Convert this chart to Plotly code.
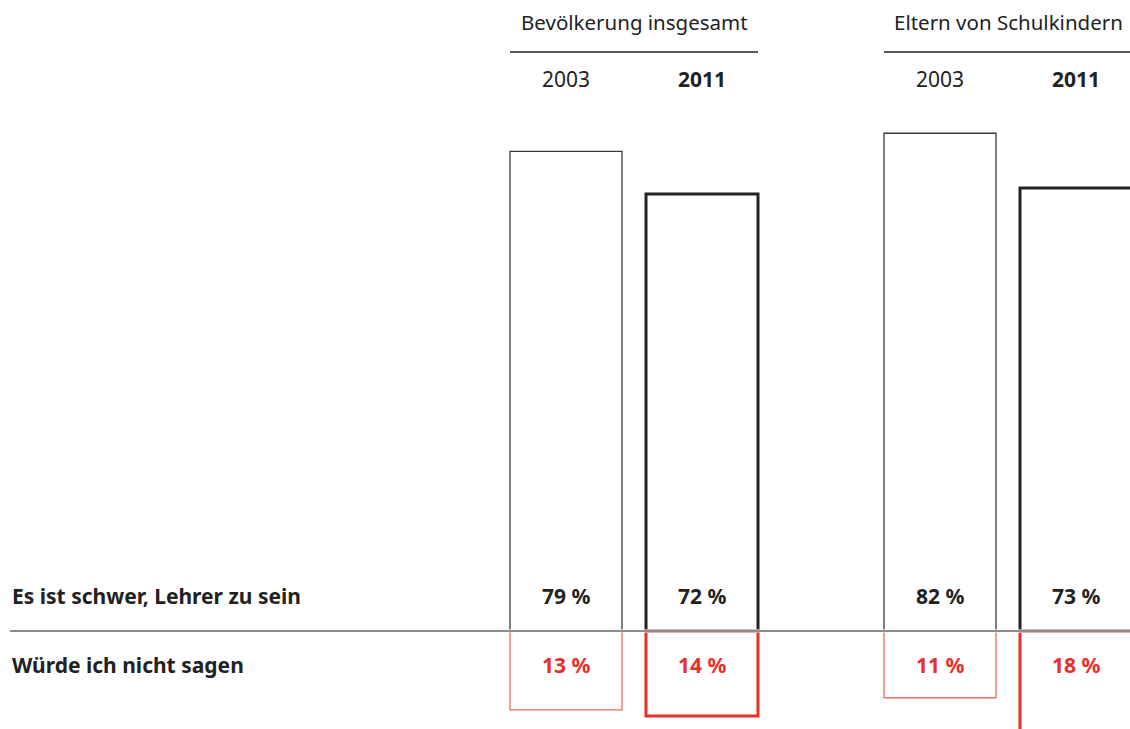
import plotly.graph_objects as go

# ---- data ----
groups = ["Bevölkerung insgesamt", "Eltern von Schulkindern"]
years = ["2003", "2011"]
row_labels = ["Es ist schwer, Lehrer zu sein", "Würde ich nicht sagen"]
schwer = [79, 72, 82, 73]      # % "Es ist schwer, Lehrer zu sein"
nicht_sagen = [13, 14, 11, 18]  # % "Würde ich nicht sagen"

# ---- layout constants (pixel-like x axis) ----
W, H = 1130, 729
FONT = "Noto Sans"
BLACK = "#222222"
RED = "#e8302a"
GRAY = "#666666"
px_per_unit = 6.07
baseline_px = 631
y_top = baseline_px / px_per_unit
y_bot = -(H - baseline_px) / px_per_unit

group_start = [566, 940]
pair_gap = 136
bar_w = 112

xs, yr_idx = [], []
for g in range(len(groups)):
    for k in range(len(years)):
        xs.append(group_start[g] + k * pair_gap)
        yr_idx.append(k)

fig = go.Figure()

for i, x in enumerate(xs):
    bold = yr_idx[i] == 1
    lw = 3 if bold else 1.3
    fig.add_trace(go.Bar(
        x=[x], y=[schwer[i]], base=0, width=bar_w,
        marker=dict(color="rgba(0,0,0,0)",
                    line=dict(color=BLACK if bold else "#3a3a3a", width=lw)),
        hoverinfo="skip", showlegend=False))
    fig.add_trace(go.Bar(
        x=[x], y=[-nicht_sagen[i]], base=0, width=bar_w,
        marker=dict(color="rgba(0,0,0,0)",
                    line=dict(color=RED if bold else "#f06a62", width=lw)),
        hoverinfo="skip", showlegend=False))

annotations = []
label_y_top = (baseline_px - 596) / px_per_unit
label_y_bot = (baseline_px - 665) / px_per_unit
for i, x in enumerate(xs):
    annotations.append(dict(x=x, y=label_y_top, xref="x", yref="y",
                            text=f"<b>{schwer[i]} %</b>", showarrow=False,
                            yanchor="middle",
                            font=dict(family=FONT, size=21, color=BLACK)))
    annotations.append(dict(x=x, y=label_y_bot, xref="x", yref="y",
                            text=f"<b>{nicht_sagen[i]} %</b>", showarrow=False,
                            yanchor="middle",
                            font=dict(family=FONT, size=21, color=RED)))

# row labels
annotations.append(dict(x=10, y=label_y_top, xref="x", yref="y", xanchor="left",
                        yanchor="middle",
                        text=f"<b>{row_labels[0]}</b>", showarrow=False,
                        font=dict(family=FONT, size=21, color=BLACK)))
annotations.append(dict(x=10, y=label_y_bot, xref="x", yref="y", xanchor="left",
                        yanchor="middle",
                        text=f"<b>{row_labels[1]}</b>", showarrow=False,
                        font=dict(family=FONT, size=21, color=BLACK)))

shapes = []
# group headers
for g, name in enumerate(groups):
    cx = group_start[g] + pair_gap / 2
    annotations.append(dict(x=cx, y=1 - 22 / H, xref="x", yref="paper",
                            text=name, showarrow=False, yanchor="middle",
                            font=dict(family=FONT, size=20.5, color=BLACK)))
    x0 = group_start[g] - bar_w / 2
    x1 = group_start[g] + pair_gap + bar_w / 2
    shapes.append(dict(type="line", xref="x", yref="paper",
                       x0=x0, x1=x1, y0=1 - 52 / H, y1=1 - 52 / H,
                       line=dict(color=BLACK, width=1.3)))
    for k, yr in enumerate(years):
        t = f"<b>{yr}</b>" if k == 1 else yr
        annotations.append(dict(x=group_start[g] + k * pair_gap, y=1 - 79 / H,
                                xref="x", yref="paper", text=t, showarrow=False,
                                yanchor="middle",
                                font=dict(family=FONT, size=21, color=BLACK)))

# hide the bar edges lying on the baseline, then draw the baseline
shapes.append(dict(type="line", xref="x", yref="y", x0=0, x1=W, y0=0, y1=0,
                   line=dict(color="white", width=3.2), layer="above"))
shapes.append(dict(type="line", xref="x", yref="y", x0=10, x1=W, y0=0, y1=0,
                   line=dict(color=GRAY, width=1.4), layer="above"))

fig.update_layout(
    width=W, height=H, autosize=False,
    margin=dict(l=0, r=0, t=0, b=0),
    paper_bgcolor="white", plot_bgcolor="white",
    barmode="overlay",
    xaxis=dict(range=[0, W], visible=False, fixedrange=True),
    yaxis=dict(range=[y_bot, y_top], visible=False, fixedrange=True),
    annotations=annotations, shapes=shapes,
)

fig.write_html("out.html", config={"displayModeBar": False},
               post_script="document.body.style.margin='0';document.body.style.overflow='hidden';")
